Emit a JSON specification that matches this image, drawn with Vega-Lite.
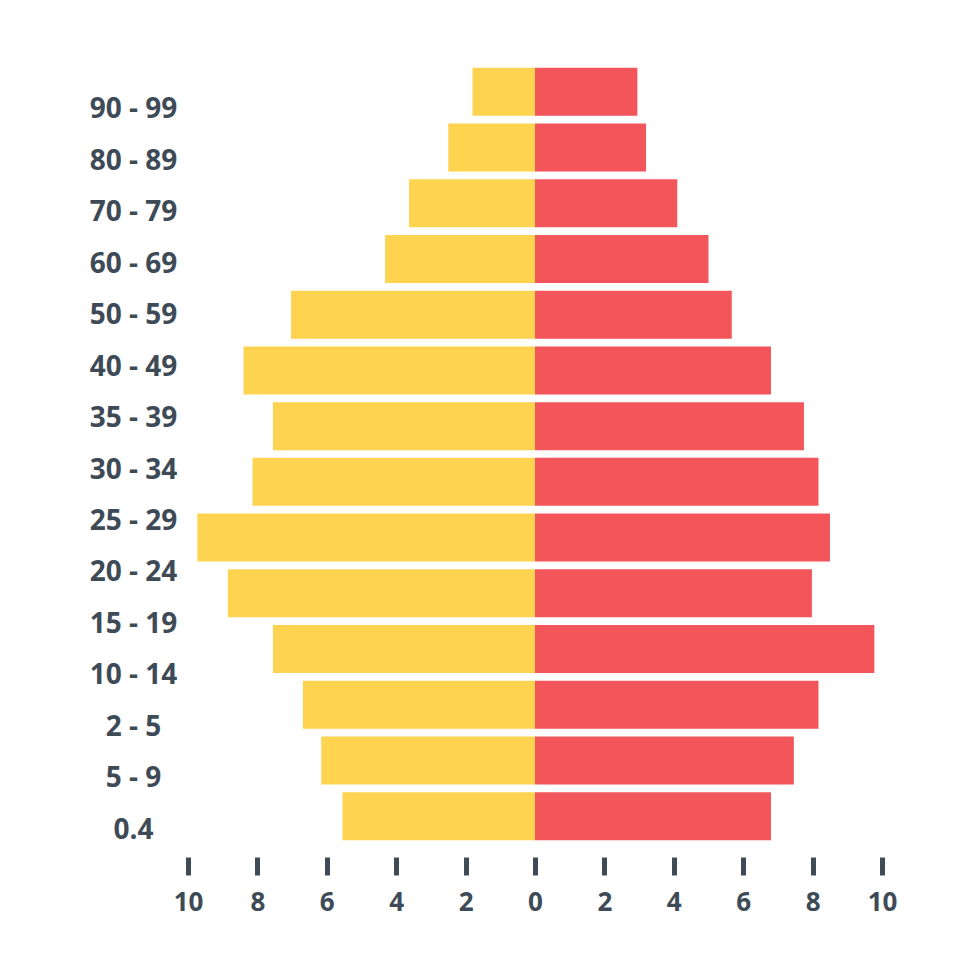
{
  "$schema": "https://vega.github.io/schema/vega-lite/v6.json",
  "width": 694,
  "height": 780,
  "autosize": {"type": "none"},
  "padding": {"left": 188, "top": 64, "right": 98, "bottom": 136},
  "background": "white",
  "config": {"view": {"stroke": null}},
  "datasets": {
    "bars": [
      {"age": "90 - 99", "side": "left", "value": -1.8},
      {"age": "90 - 99", "side": "right", "value": 2.95},
      {"age": "80 - 89", "side": "left", "value": -2.5},
      {"age": "80 - 89", "side": "right", "value": 3.2},
      {"age": "70 - 79", "side": "left", "value": -3.63},
      {"age": "70 - 79", "side": "right", "value": 4.1},
      {"age": "60 - 69", "side": "left", "value": -4.32},
      {"age": "60 - 69", "side": "right", "value": 5.0},
      {"age": "50 - 59", "side": "left", "value": -7.03},
      {"age": "50 - 59", "side": "right", "value": 5.67},
      {"age": "40 - 49", "side": "left", "value": -8.4},
      {"age": "40 - 49", "side": "right", "value": 6.8},
      {"age": "35 - 39", "side": "left", "value": -7.55},
      {"age": "35 - 39", "side": "right", "value": 7.75},
      {"age": "30 - 34", "side": "left", "value": -8.14},
      {"age": "30 - 34", "side": "right", "value": 8.17},
      {"age": "25 - 29", "side": "left", "value": -9.73},
      {"age": "25 - 29", "side": "right", "value": 8.5},
      {"age": "20 - 24", "side": "left", "value": -8.85},
      {"age": "20 - 24", "side": "right", "value": 7.98},
      {"age": "15 - 19", "side": "left", "value": -7.55},
      {"age": "15 - 19", "side": "right", "value": 9.78},
      {"age": "10 - 14", "side": "left", "value": -6.69},
      {"age": "10 - 14", "side": "right", "value": 8.17},
      {"age": "5 - 9", "side": "left", "value": -6.16},
      {"age": "5 - 9", "side": "right", "value": 7.46},
      {"age": "0.4", "side": "left", "value": -5.55},
      {"age": "0.4", "side": "right", "value": 6.8}
    ],
    "labels": [
      {"age": "90 - 99"}, {"age": "80 - 89"}, {"age": "70 - 79"}, {"age": "60 - 69"},
      {"age": "50 - 59"}, {"age": "40 - 49"}, {"age": "35 - 39"}, {"age": "30 - 34"},
      {"age": "25 - 29"}, {"age": "20 - 24"}, {"age": "15 - 19"}, {"age": "10 - 14"},
      {"age": "2 - 5"}, {"age": "5 - 9"}, {"age": "0.4"}
    ]
  },
  "layer": [
    {
      "data": {"name": "bars"},
      "mark": {"type": "bar"},
      "encoding": {
        "y": {
          "field": "age",
          "type": "nominal",
          "sort": null,
          "scale": {"type": "band", "paddingInner": 0.138, "paddingOuter": 0.069},
          "axis": null
        },
        "x": {
          "field": "value",
          "type": "quantitative",
          "scale": {"domain": [-10, 10], "nice": false, "zero": false},
          "axis": {
            "orient": "bottom",
            "values": [-10, -8, -6, -4, -2, 0, 2, 4, 6, 8, 10],
            "labelExpr": "abs(datum.value)",
            "title": null,
            "grid": false,
            "domain": false,
            "offset": 13,
            "ticks": true,
            "tickSize": 18,
            "tickWidth": 5,
            "tickColor": "#3E4B56",
            "tickCap": "butt",
            "labelPadding": 14,
            "labelFont": "Open Sans",
            "labelFontWeight": "bold",
            "labelFontSize": 26,
            "labelColor": "#3E4B56",
            "labelFlush": false,
            "labelOverlap": false
          }
        },
        "color": {
          "field": "side",
          "type": "nominal",
          "scale": {"domain": ["left", "right"], "range": ["#FDD34F", "#F2555A"]},
          "legend": null
        }
      }
    },
    {
      "data": {"name": "labels"},
      "mark": {"type": "point", "opacity": 0},
      "encoding": {
        "y": {
          "field": "age",
          "type": "nominal",
          "sort": null,
          "scale": {"type": "point", "padding": 0.583, "align": 0.767},
          "axis": {
            "orient": "left",
            "title": null,
            "domain": false,
            "ticks": false,
            "tickSize": 0,
            "grid": false,
            "labelAlign": "center",
            "labelBaseline": "middle",
            "labelPadding": 55,
            "labelFont": "Open Sans",
            "labelFontWeight": "bold",
            "labelFontSize": 28,
            "labelColor": "#3E4B56",
            "labelOverlap": false
          }
        }
      }
    }
  ],
  "resolve": {"scale": {"y": "independent"}, "axis": {"y": "independent"}}
}
